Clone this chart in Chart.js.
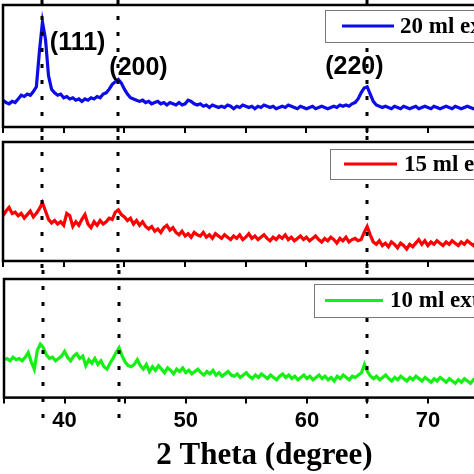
<!DOCTYPE html>
<html>
<head>
<meta charset="utf-8">
<script src="https://cdn.jsdelivr.net/npm/chart.js@4.4.0/dist/chart.umd.min.js"></script>
<style>
  html, body { margin: 0; padding: 0; background: #fff; overflow: hidden; }
  #wrap { position: relative; width: 474px; height: 474px; overflow: hidden; }
  canvas { position: absolute; left: 0; }
</style>
</head>
<body>
<div id="wrap">
  <canvas id="c20" width="528" height="136" style="top:0px"></canvas>
  <canvas id="c15" width="528" height="134" style="top:136px"></canvas>
  <canvas id="c10" width="528" height="204" style="top:270px"></canvas>
</div>
<script>
// 2 theta (degree)
const twoTheta = [
  35.00, 35.25, 35.50, 35.75, 36.00, 36.25, 36.50, 36.75,
  37.00, 37.25, 37.50, 37.75, 38.00, 38.25, 38.50, 38.75,
  39.00, 39.25, 39.50, 39.75, 40.00, 40.25, 40.50, 40.75,
  41.00, 41.25, 41.50, 41.75, 42.00, 42.25, 42.50, 42.75,
  43.00, 43.25, 43.50, 43.75, 44.00, 44.25, 44.50, 44.75,
  45.00, 45.25, 45.50, 45.75, 46.00, 46.25, 46.50, 46.75,
  47.00, 47.25, 47.50, 47.75, 48.00, 48.25, 48.50, 48.75,
  49.00, 49.25, 49.50, 49.75, 50.00, 50.25, 50.50, 50.75,
  51.00, 51.25, 51.50, 51.75, 52.00, 52.25, 52.50, 52.75,
  53.00, 53.25, 53.50, 53.75, 54.00, 54.25, 54.50, 54.75,
  55.00, 55.25, 55.50, 55.75, 56.00, 56.25, 56.50, 56.75,
  57.00, 57.25, 57.50, 57.75, 58.00, 58.25, 58.50, 58.75,
  59.00, 59.25, 59.50, 59.75, 60.00, 60.25, 60.50, 60.75,
  61.00, 61.25, 61.50, 61.75, 62.00, 62.25, 62.50, 62.75,
  63.00, 63.25, 63.50, 63.75, 64.00, 64.25, 64.50, 64.75,
  65.00, 65.25, 65.50, 65.75, 66.00, 66.25, 66.50, 66.75,
  67.00, 67.25, 67.50, 67.75, 68.00, 68.25, 68.50, 68.75,
  69.00, 69.25, 69.50, 69.75, 70.00, 70.25, 70.50, 70.75,
  71.00, 71.25, 71.50, 71.75, 72.00, 72.25, 72.50, 72.75,
  73.00, 73.25, 73.50, 73.75, 74.00, 74.25, 74.50, 74.75
];

// intensity (a.u.), each panel on its own 0-100 scale
const int20ml = [
  22, 20, 19, 21, 20, 23, 26, 25,
  27, 26, 29, 33, 62, 86, 72, 42,
  31, 28, 26, 27, 24, 25, 23, 24,
  22, 23, 21, 23, 22, 24, 23, 25,
  24, 27, 28, 31, 35, 37, 39, 36,
  31, 27, 24, 23, 22, 21, 22, 20,
  21, 19, 20, 21, 19, 20, 18, 20,
  19, 18, 20, 18, 19, 22, 21, 19,
  18, 19, 17, 18, 16, 18, 17, 16,
  17, 16, 18, 17, 15, 17, 16, 18,
  17, 16, 17, 15, 17, 16, 18, 17,
  16, 17, 15, 16, 17, 16, 18, 17,
  16, 15, 17, 16, 15, 16, 17, 15,
  16, 17, 16, 15, 16, 17, 16, 18,
  17, 18, 17, 19, 20, 23, 28, 32,
  33, 27, 21, 18, 17, 16, 17, 16,
  15, 17, 16, 15, 17, 16, 15, 16,
  17, 15, 16, 17, 16, 15, 17, 16,
  15, 16, 17, 16, 15, 17, 16, 15,
  16, 17, 16, 15, 16, 17, 16, 17
];
const int15ml = [
  38, 42, 45, 40, 41, 38, 40, 36,
  39, 42, 37, 40, 44, 49, 42, 35,
  32, 34, 31, 33, 30, 40, 38, 29,
  33, 30, 35, 39, 31, 28, 33, 30,
  34, 31, 33, 36, 35, 41, 43, 39,
  37, 34, 36, 31, 34, 30, 33, 29,
  27, 29, 25, 27, 24, 28, 30, 26,
  28, 24, 22, 25, 21, 23, 20, 24,
  22, 21, 24, 20, 22, 19, 23, 21,
  19, 22, 20, 18, 21, 19, 22, 18,
  20, 23, 19, 21, 18, 20, 22, 19,
  17, 20, 18, 21, 19, 22, 18, 20,
  17, 19, 21, 18, 20, 17, 19, 21,
  18, 16, 19, 17, 20, 18, 15, 19,
  17, 20, 16, 18, 19, 17, 18, 24,
  29, 22, 16, 14, 17, 13, 15, 12,
  16, 14, 11, 15, 13, 10, 14, 12,
  15, 18, 14, 17, 13, 16, 14, 17,
  15, 13, 16, 14, 17, 15, 13, 16,
  14, 17, 15, 13, 16, 14, 15, 13
];
const int10ml = [
  32, 33, 31, 34, 32, 33, 31, 34,
  38, 30, 24, 40, 45, 42, 36, 33,
  34, 31, 33, 35, 39, 34, 31, 35,
  37, 33, 35, 27, 32, 29, 33, 28,
  31, 26, 24, 29, 33, 38, 42, 35,
  30, 27, 26, 28, 32, 27, 24, 28,
  22, 26, 23, 27, 24, 21, 25, 23,
  20, 24, 22, 25, 21, 23, 20, 22,
  24, 21, 19, 22, 20, 23, 19, 21,
  18, 20, 22, 19, 18, 20, 17, 19,
  21, 18, 16, 19, 17, 20, 18, 16,
  19, 17, 15, 18, 20, 17, 19, 16,
  18, 15, 17, 19, 16, 18, 15, 17,
  19, 16, 18, 15, 17, 14, 18, 16,
  19, 17, 15, 18, 17, 19, 21, 28,
  22, 18, 16, 18, 15, 17, 19, 16,
  14, 17, 15, 18, 16, 14, 17, 15,
  18, 16, 14, 17, 15, 13, 16, 14,
  17, 15, 13, 16, 14, 12, 15, 13,
  16, 14, 12, 15, 13, 14, 12, 13
];

const peakPositions = [38.2, 44.5, 65.0];
const peakNames = ["(111)", "(200)", "(220)"];

const tickValues = [35, 40, 45, 50, 55, 60, 65, 70, 75];
const tickLabels = ["", "40", "", "50", "", "60", "", "70", ""];

Chart.defaults.font.family = "'Liberation Sans', Arial, sans-serif";
Chart.defaults.color = "#000";

// dotted lines, peak labels, legend box and frame
const decor = {
    id: "decor",
    afterDatasetsDraw(chart, args, opts) {
        const ctx = chart.ctx;
        const x = chart.scales.x;
        ctx.save();
        ctx.strokeStyle = "#000";
        ctx.lineWidth = 3;
        ctx.setLineDash([4, 12]);
        peakPositions.forEach(p => {
            const px = Math.round(x.getPixelForValue(p));
            ctx.beginPath();
            ctx.moveTo(px, 0);
            ctx.lineTo(px, opts.lineEnd);
            ctx.stroke();
        });
        ctx.restore();

        if (opts.peakLabels) {
            const a = chart.chartArea;
            ctx.save();
            ctx.fillStyle = "#000";
            ctx.font = "bold 25px 'Liberation Sans', Arial, sans-serif";
            ctx.textBaseline = "middle";
            ctx.textAlign = "left";
            opts.peakLabels.forEach((l, i) => {
                const px = x.getPixelForValue(peakPositions[i]);
                ctx.fillText(peakNames[i], px + l.dx, a.top + l.dy);
            });
            ctx.restore();
        }
    },
    afterDraw(chart, args, opts) {
        const ctx = chart.ctx;
        const a = chart.chartArea;
        const ds = chart.data.datasets[0];
        const lg = opts.legend;
        const bx = a.left + lg.left, by = a.top + lg.top;
        ctx.save();
        ctx.fillStyle = "#fff";
        ctx.fillRect(bx, by, 260, lg.h);
        ctx.strokeStyle = "#777";
        ctx.lineWidth = 1;
        ctx.strokeRect(bx + 0.5, by + 0.5, 260, lg.h);
        ctx.strokeStyle = ds.borderColor;
        ctx.lineWidth = 3;
        ctx.beginPath();
        ctx.moveTo(bx + lg.l1, by + lg.h / 2);
        ctx.lineTo(bx + lg.l2, by + lg.h / 2);
        ctx.stroke();
        ctx.fillStyle = "#000";
        ctx.font = "bold 23px 'Liberation Serif', 'Times New Roman', serif";
        ctx.textBaseline = "middle";
        ctx.fillText(ds.label, bx + lg.tx, by + lg.h / 2 + 1);

        ctx.strokeStyle = "#000";
        ctx.lineWidth = 2.5;
        ctx.strokeRect(a.left, a.top, a.right - a.left, a.bottom - a.top);
        ctx.restore();
    }
};

function makePanel(id, label, values, color, pad, bottom, decorOpts) {
    const ctx = document.getElementById(id).getContext("2d");
    return new Chart(ctx, {
        type: "line",
        data: {
            labels: twoTheta,
            datasets: [{
                label: label,
                data: twoTheta.map((t, i) => ({ x: t, y: values[i] })),
                borderColor: color,
                borderWidth: 3.2,
                pointRadius: 0,
                tension: 0,
                fill: false
            }]
        },
        options: {
            responsive: false,
            animation: false,
            layout: { padding: pad },
            plugins: {
                legend: { display: false },
                tooltip: { enabled: false },
                decor: decorOpts
            },
            scales: {
                x: {
                    type: "linear",
                    min: 35,
                    max: 78,
                    afterBuildTicks: scale => {
                        scale.ticks = tickValues.map(v => ({ value: v }));
                    },
                    grid: {
                        drawOnChartArea: false,
                        drawTicks: true,
                        tickLength: 6,
                        color: "#000",
                        lineWidth: 2
                    },
                    border: { display: false },
                    ticks: {
                        display: bottom,
                        autoSkip: false,
                        maxRotation: 0,
                        padding: 4,
                        font: { size: 22, weight: "bold" },
                        callback: (value, index) => tickLabels[index]
                    },
                    title: {
                        display: bottom,
                        text: "2 Theta (degree)",
                        font: { family: "'Liberation Serif', 'Times New Roman', serif", size: 31, weight: "bold", lineHeight: 1 },
                        padding: { top: 2, bottom: 3 }
                    }
                },
                y: { display: false, min: 0, max: 100 }
            }
        },
        plugins: [decor]
    });
}

makePanel("c20", "20 ml extract", int20ml, "#0c0ce8",
    { left: 3, right: 3, top: 5, bottom: 3 }, false,
    { lineEnd: 136, legend: { left: 322, top: 5, h: 32, l1: 17, l2: 69, tx: 75 },
      peakLabels: [{ dx: 8, dy: 38 }, { dx: -9, dy: 63 }, { dx: -42, dy: 62 }] });

makePanel("c15", "15 ml extract", int15ml, "#ff0000",
    { left: 3, right: 3, top: 6, bottom: 3 }, false,
    { lineEnd: 134, legend: { left: 327, top: 7, h: 30, l1: 14, l2: 67, tx: 74 } });

makePanel("c10", "10 ml extract", int10ml, "#14f014",
    { left: 3, right: 3, top: 9, bottom: 0 }, true,
    { lineEnd: 156, legend: { left: 310, top: 5, h: 33, l1: 11, l2: 69, tx: 76 } });
</script>
</body>
</html>
